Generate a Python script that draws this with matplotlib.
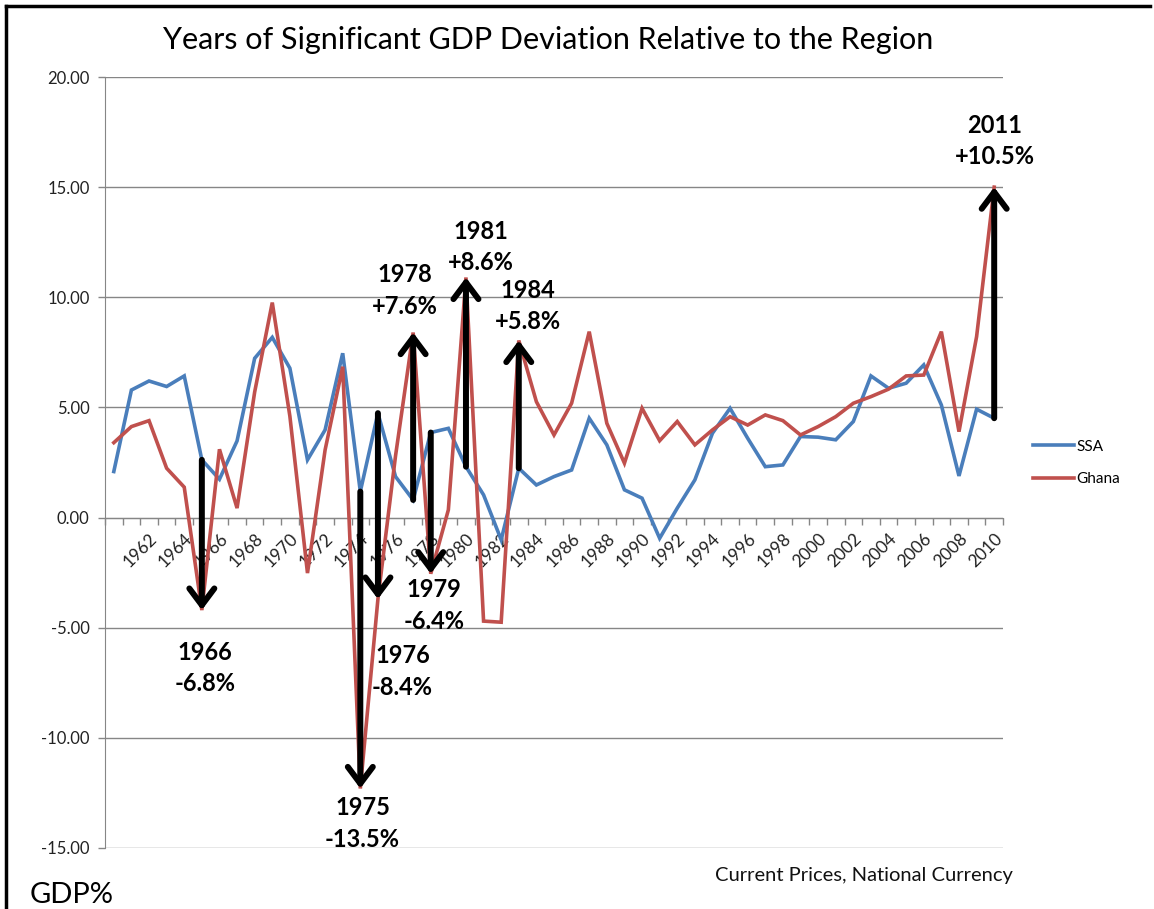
import numpy as np
import matplotlib
matplotlib.use('Agg')
import matplotlib.pyplot as plt
from matplotlib.lines import Line2D

plt.rcParams['font.family'] = ['Lato', 'DejaVu Sans']

# Daten
years = list(range(1960, 2011))
ssa = [2.09, 5.79, 6.2, 5.95, 6.43, 2.62, 1.74, 3.48, 7.23, 8.18,
       6.78, 2.62, 3.98, 7.46, 1.18, 4.74, 1.86, 0.8, 3.86, 4.05,
       2.31, 1.03, -1.01, 2.24, 1.48, 1.86, 2.16, 4.51, 3.3, 1.26,
       0.88, -0.94, 0.43, 1.71, 3.83, 4.96, 3.6, 2.31, 2.39, 3.68,
       3.65, 3.53, 4.36, 6.43, 5.87, 6.1, 6.93, 5.11, 1.89, 4.92, 4.51]
ghana = [3.4, 4.13, 4.4, 2.24, 1.38, -4.2, 3.1, 0.43, 5.7, 9.76,
         4.6, -2.52, 3.07, 6.85, -12.3, -3.7, 2.8, 8.4, -2.55, 0.35,
         10.9, -4.7, -4.75, 8.04, 5.26, 3.75, 5.19, 8.44, 4.28, 2.47,
         4.96, 3.49, 4.36, 3.3, 3.98, 4.58, 4.2, 4.66, 4.4, 3.75,
         4.13, 4.58, 5.19, 5.49, 5.83, 6.43, 6.47, 8.44, 3.9, 8.21, 15.0]

# Pfeile: (Jahr der Kategorie, Beschriftung, Textposition x, y in Daten)
arrow_years = [1965, 1974, 1975, 1977, 1978, 1980, 1983, 2010]
arrow_labels = ['1966\n-6.8%', '1975\n-13.5%', '1976\n-8.4%', '1978\n+7.6%',
                '1979\n-6.4%', '1981\n+8.6%', '1984\n+5.8%', '2011\n+10.5%']
label_x = [5.19, 14.13, 16.4, 16.55, 18.17, 20.84, 23.5, 50.04]
label_y = [-6.82, -13.9, -7.0, 10.3, -4.0, 12.28, 9.6, 17.1]

blue = '#4A7EBB'
red = '#C0504D'
grey = '#868686'

fig = plt.figure(figsize=(11.54, 9.09), dpi=100)
ax = fig.add_axes([105 / 1154, 61 / 909, 898 / 1154, 771 / 909])

x = np.arange(len(years))
ax.plot(x, ssa, color=blue, lw=2.6, label='SSA', solid_joinstyle='miter', zorder=3)
ax.plot(x, ghana, color=red, lw=2.6, label='Ghana', solid_joinstyle='miter', zorder=3)

for yr, lab, tx, ty in zip(arrow_years, arrow_labels, label_x, label_y):
    i = years.index(yr)
    ax.annotate('', xy=(i, ghana[i]), xytext=(i, ssa[i]),
                arrowprops=dict(arrowstyle='->,head_length=0.6,head_width=0.45',
                                lw=4.3, color='black', shrinkA=0, shrinkB=0,
                                mutation_scale=20), zorder=4)
    ax.text(tx, ty, lab, ha='center', va='center', fontsize=17, fontweight='bold',
            linespacing=1.45, color='black', zorder=5)

# Achsen
ax.set_xlim(-0.5, len(years) - 0.5)
ax.set_ylim(-15, 20)
ax.set_yticks(np.arange(-15, 21, 5))
ax.set_yticklabels([f'{v:.2f}' for v in np.arange(-15, 21, 5)])
ax.yaxis.grid(True, color=grey, lw=1)
ax.set_axisbelow(True)

ax.set_xticks(x[2::2])
ax.set_xticklabels([str(y) for y in years[2::2]])
ax.set_xticks(np.arange(-0.5, len(years), 1), minor=True)
ax.tick_params(axis='x', which='major', length=0, pad=9, labelsize=12.5, labelcolor='#222222')
ax.tick_params(axis='x', which='minor', length=5, width=1, color=grey, direction='out')
ax.tick_params(axis='y', length=5, width=1, color=grey, pad=6, labelsize=12, labelcolor='#222222')

ax.spines['bottom'].set_position(('data', 0))
ax.spines['bottom'].set_color(grey)
ax.spines['left'].set_color(grey)
ax.spines['top'].set_visible(False)
ax.spines['right'].set_visible(False)

plt.setp(ax.get_xticklabels(), rotation=45, ha='right', va='top', rotation_mode='anchor')

fig.legend(loc='center left', bbox_to_anchor=(1033 / 1154, 1 - 463 / 909), frameon=False,
           fontsize=11, handlelength=2.7, handletextpad=0.15, labelspacing=1.2,
           borderpad=0, borderaxespad=0)

fig.text(548 / 1154, 1 - 40 / 909, 'Years of Significant GDP Deviation Relative to the Region',
         ha='center', va='center', fontsize=22, color='black')
fig.text(1013 / 1154, 1 - 876 / 909, 'Current Prices, National Currency',
         ha='right', va='center', fontsize=14.5, color='#111111')
fig.text(30 / 1154, 1 - 903 / 909, 'GDP%', ha='left', va='baseline', fontsize=21, color='black')

# Rahmen oben und links
fig.add_artist(Line2D([6 / 1154, 6 / 1154], [0, 1 - 6 / 909], color='black', lw=2.5))
fig.add_artist(Line2D([6 / 1154, 1150 / 1154], [1 - 6 / 909, 1 - 6 / 909], color='black', lw=2.5))

fig.savefig('out.png', dpi=100)
